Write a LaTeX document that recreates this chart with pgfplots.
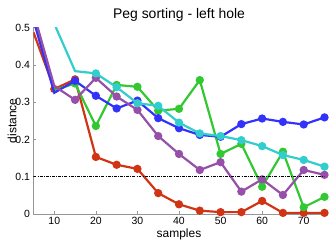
\documentclass[border=0pt]{standalone}
\usepackage{fontspec}
\setmainfont{Liberation Sans}
\usepackage{pgfplots}
\pgfplotsset{compat=1.18}
\definecolor{cred}{RGB}{208,52,20}
\definecolor{cblue}{RGB}{50,50,250}
\definecolor{cgreen}{RGB}{50,200,50}
\definecolor{cpurple}{RGB}{150,80,170}
\definecolor{ccyan}{RGB}{50,205,205}
\definecolor{axgray}{RGB}{150,150,150}
\begin{document}
\begin{tikzpicture}
\begin{axis}[
  scale only axis, width=291bp, height=186.5bp,
  xmin=5, xmax=75, ymin=0, ymax=0.5,
  clip mode=individual,
  axis x line*=bottom, axis y line*=left,
  xtick={10,20,30,40,50,60,70},
  ytick={0,0.1,0.2,0.3,0.4,0.5},
  yticklabels={0,0.1,0.2,0.3,0.4,0.5},
  tick align=inside, major tick length=3bp,
  axis line style={axgray, line width=0.6pt},
  tick style={axgray, line width=0.6pt},
  /pgf/number format/assume math mode=true,
  tick label style={font=\fontsize{10.5}{12}\selectfont, text=black},
  every axis plot/.append style={line width=2.2pt, mark=*, mark size=3pt, mark phase=2, mark repeat=1},
]
\addplot[cred, mark options={fill=cred}] coordinates {(5,0.487)(10,0.335)(15,0.361)(20,0.153)(25,0.132)(30,0.121)(35,0.056)(40,0.026)(45,0.009)(50,0.005)(55,0.005)(60,0.035)(65,0.003)(70,0.003)(75,0.003)};
\addplot[cgreen, mark options={fill=cgreen}] coordinates {(5,0.53)(10,0.332)(15,0.35)(20,0.236)(25,0.346)(30,0.341)(35,0.277)(40,0.282)(45,0.359)(50,0.161)(55,0.188)(60,0.073)(65,0.167)(70,0.018)(75,0.046)};
\addplot[cblue, mark options={fill=cblue}] coordinates {(5,0.52)(10,0.325)(15,0.357)(20,0.317)(25,0.283)(30,0.304)(35,0.257)(40,0.23)(45,0.212)(50,0.207)(55,0.241)(60,0.256)(65,0.247)(70,0.24)(75,0.259)};
\addplot[cpurple, mark options={fill=cpurple}] coordinates {(5,0.54)(10,0.343)(15,0.306)(20,0.365)(25,0.315)(30,0.279)(35,0.209)(40,0.161)(45,0.118)(50,0.139)(55,0.06)(60,0.093)(65,0.051)(70,0.118)(75,0.105)};
\addplot[ccyan, mark options={fill=ccyan}] coordinates {(5,0.65)(10,0.51)(15,0.383)(20,0.377)(25,0.34)(30,0.297)(35,0.29)(40,0.245)(45,0.216)(50,0.209)(55,0.198)(60,0.182)(65,0.158)(70,0.145)(75,0.127)};
\addplot[black, line width=0.6pt, mark=none, dash pattern=on 3pt off 1.2pt on 0.8pt off 1.2pt] coordinates {(5,0.1)(75,0.1)};
\node[font=\fontsize{14}{16}\selectfont] at (rel axis cs:0.5,1) [yshift=12.5bp] {Peg sorting - left hole};
\node[font=\fontsize{12}{14}\selectfont] at (rel axis cs:0.5,0) [yshift=-20bp] {samples};
\node[font=\fontsize{12}{14}\selectfont, xshift=-21.5bp, rotate=90] at (rel axis cs:0,0.5) {distance};
\end{axis}
\pgfresetboundingbox
\path[use as bounding box] (-33.5bp,-35bp) rectangle (298.5bp,214bp);
\end{tikzpicture}
\end{document}
